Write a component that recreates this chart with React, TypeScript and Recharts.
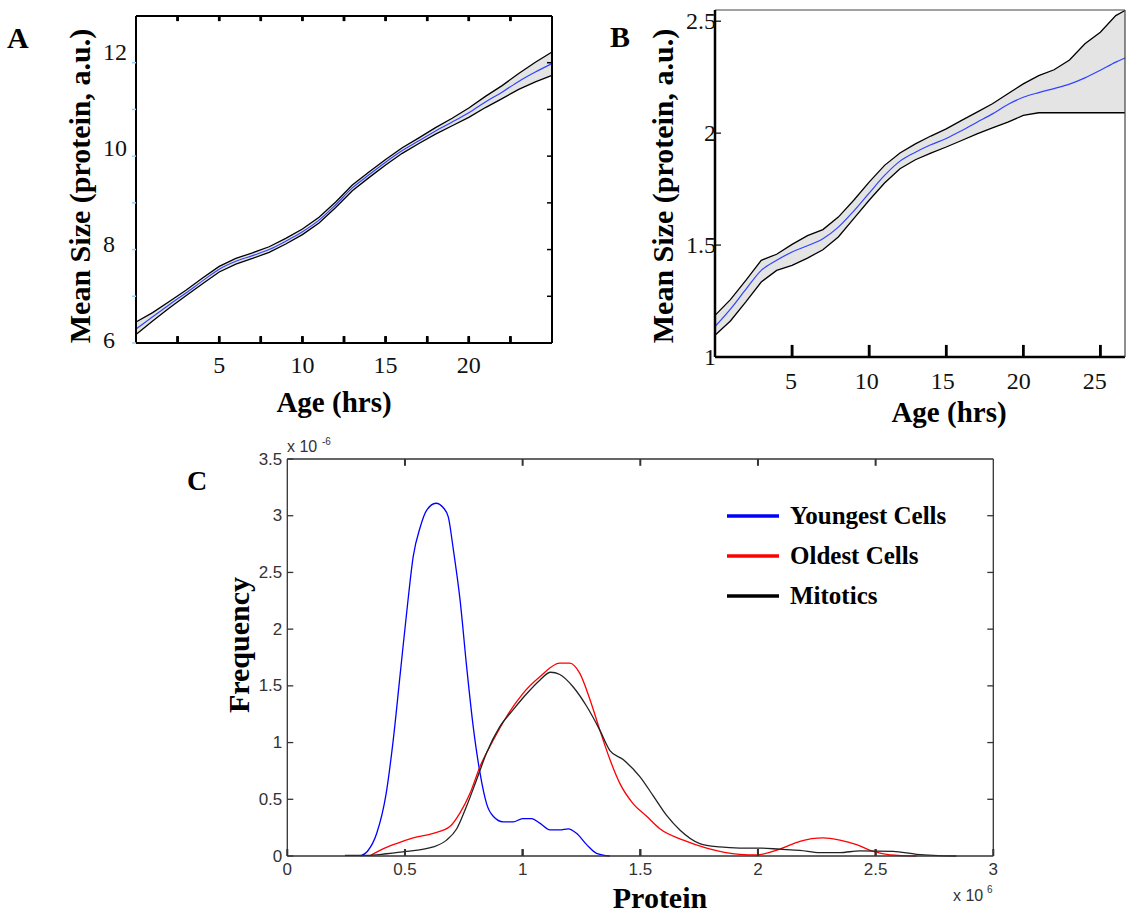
import React from "react";
import { ComposedChart, LineChart, Line, Area, XAxis, YAxis, Legend, ReferenceLine } from "recharts";

// Panel A: mean size vs age
const ageA = [0, 1, 2, 3, 4, 5, 6, 7, 8, 9, 10, 11, 12, 13, 14, 15, 16, 17, 18, 19, 20, 21, 22, 23, 24, 25];
const meanA = [6.30, 6.56, 6.82, 7.07, 7.33, 7.58, 7.75, 7.87, 8.00, 8.18, 8.38, 8.63, 8.96, 9.32, 9.60, 9.87, 10.12, 10.33, 10.54, 10.73, 10.93, 11.16, 11.37, 11.60, 11.80, 11.98];
const highA = [6.45, 6.65, 6.89, 7.13, 7.39, 7.64, 7.81, 7.93, 8.06, 8.24, 8.44, 8.69, 9.02, 9.38, 9.66, 9.93, 10.18, 10.39, 10.61, 10.81, 11.03, 11.28, 11.51, 11.77, 12.01, 12.23];
const lowA = [6.18, 6.47, 6.75, 7.01, 7.27, 7.52, 7.69, 7.81, 7.94, 8.12, 8.32, 8.57, 8.90, 9.26, 9.54, 9.81, 10.06, 10.27, 10.47, 10.65, 10.83, 11.04, 11.23, 11.43, 11.59, 11.73];

// Panel B
const ageB = [0, 1, 2, 3, 4, 5, 6, 7, 8, 9, 10, 11, 12, 13, 14, 15, 16, 17, 18, 19, 20, 21, 22, 23, 24, 25, 26, 26.6];
const meanB = [1.136, 1.214, 1.302, 1.387, 1.432, 1.469, 1.497, 1.528, 1.580, 1.652, 1.732, 1.811, 1.875, 1.915, 1.948, 1.976, 2.011, 2.049, 2.086, 2.128, 2.160, 2.181, 2.199, 2.219, 2.247, 2.281, 2.317, 2.336];
const highB = [1.186, 1.256, 1.342, 1.432, 1.459, 1.503, 1.542, 1.569, 1.625, 1.700, 1.781, 1.856, 1.911, 1.952, 1.987, 2.019, 2.057, 2.094, 2.131, 2.176, 2.220, 2.257, 2.283, 2.327, 2.399, 2.451, 2.525, 2.548];
const lowB = [1.097, 1.161, 1.246, 1.335, 1.387, 1.409, 1.442, 1.479, 1.536, 1.618, 1.700, 1.777, 1.841, 1.881, 1.911, 1.938, 1.967, 1.997, 2.023, 2.049, 2.079, 2.091, 2.091, 2.091, 2.091, 2.091, 2.091, 2.091];

// Panel C: protein distributions (x in 1e6, y in 1e-6)
const youngX = [0.31, 0.34, 0.38, 0.42, 0.45, 0.48, 0.51, 0.535, 0.565, 0.59, 0.632, 0.663, 0.684, 0.705, 0.734, 0.762, 0.79, 0.819, 0.847, 0.875, 0.918, 0.96, 1.0, 1.038, 1.073, 1.116, 1.158, 1.194, 1.229, 1.272, 1.314, 1.37];
const youngY = [0, 0.04, 0.2, 0.55, 1.02, 1.61, 2.2, 2.64, 2.9, 3.04, 3.11, 3.07, 2.99, 2.71, 2.26, 1.67, 1.14, 0.73, 0.46, 0.35, 0.30, 0.30, 0.33, 0.33, 0.29, 0.23, 0.23, 0.24, 0.20, 0.10, 0.024, 0];
const oldX = [0.35, 0.394, 0.464, 0.535, 0.62, 0.691, 0.734, 0.776, 0.819, 0.875, 0.932, 1.0, 1.073, 1.158, 1.2, 1.243, 1.286, 1.328, 1.371, 1.413, 1.47, 1.527, 1.583, 1.683, 1.782, 1.923, 1.994, 2.093, 2.178, 2.277, 2.348, 2.419, 2.49, 2.561, 2.674];
const oldY = [0, 0.05, 0.11, 0.16, 0.2, 0.26, 0.38, 0.55, 0.79, 1.02, 1.23, 1.43, 1.58, 1.70, 1.70, 1.61, 1.38, 1.11, 0.85, 0.64, 0.46, 0.35, 0.24, 0.14, 0.07, 0.015, 0.01, 0.06, 0.13, 0.16, 0.14, 0.10, 0.04, 0.01, 0];
const mitX = [0.245, 0.337, 0.422, 0.507, 0.62, 0.677, 0.72, 0.762, 0.804, 0.847, 0.903, 0.96, 1.017, 1.073, 1.119, 1.158, 1.215, 1.272, 1.328, 1.371, 1.427, 1.498, 1.555, 1.611, 1.668, 1.753, 1.838, 1.923, 2.008, 2.093, 2.178, 2.263, 2.348, 2.433, 2.575, 2.674, 2.843];
const mitY = [0.005, 0.005, 0.02, 0.04, 0.08, 0.14, 0.24, 0.44, 0.67, 0.91, 1.14, 1.29, 1.43, 1.55, 1.62, 1.60, 1.49, 1.32, 1.11, 0.93, 0.85, 0.70, 0.53, 0.36, 0.23, 0.11, 0.08, 0.07, 0.07, 0.06, 0.05, 0.03, 0.03, 0.045, 0.04, 0.015, 0];
const seriesNames = ["Youngest Cells", "Oldest Cells", "Mitotics"];

const ticksA = [2.5, 5, 7.5, 10, 12.5, 15, 17.5, 20, 22.5];
const labelsA = [5, 10, 15, 20];
const labelsAy = [6, 8, 10, 12];
const ticksB = [5, 10, 15, 20, 25];
const ticksBy = [1, 1.5, 2, 2.5];
const ticksCx = [0, 0.5, 1, 1.5, 2, 2.5, 3];
const innerCx = [0.5, 1, 1.5, 2, 2.5];
const ticksCy = [0, 0.5, 1, 1.5, 2, 2.5, 3, 3.5];

const serif = "'Liberation Serif', 'Times New Roman', serif";
const sans = "'Liberation Sans', Arial, sans-serif";

const bandRows = (age: number[], mean: number[], low: number[], high: number[]) =>
  age.map((t, i) => ({ t, mean: mean[i], low: low[i], high: high[i], band: [low[i], high[i]] }));
const pts = (xs: number[], ys: number[]) => xs.map((x, i) => ({ x, y: ys[i] }));

const rowsA = bandRows(ageA, meanA, lowA, highA);
const rowsB = bandRows(ageB, meanB, lowB, highB);
const youngData = pts(youngX, youngY);
const oldData = pts(oldX, oldY);
const mitData = pts(mitX, mitY);

const tickText = (anchor: string, font: string, size: number, fill: string) => (p: any) => (
  <text x={p.x} y={p.y} textAnchor={anchor} dominantBaseline="central" fontFamily={font} fontSize={size} fill={fill}>
    {p.payload.value}
  </text>
);

// inward tick mark on a frame side (+ optional label)
type LabelOpt = { anchor: string; font: string; size: number; fill: string; dx: number; dy: number };
const markTick = (side: string, len: number, stroke: string, sw: number, label?: LabelOpt) => (p: any) => {
  const { x, y } = p;
  let x2 = x, y2 = y;
  if (side === "bottom") y2 = y - len;
  if (side === "top") y2 = y + len;
  if (side === "left") x2 = x + len;
  if (side === "right") x2 = x - len;
  return (
    <g>
      {len !== 0 && <line x1={x} y1={y} x2={x2} y2={y2} stroke={stroke} strokeWidth={sw} />}
      {label && (
        <text x={x + label.dx} y={y + label.dy} textAnchor={label.anchor} dominantBaseline="central"
          fontFamily={label.font} fontSize={label.size} fill={label.fill}>
          {p.payload.value}
        </text>
      )}
    </g>
  );
};

// short vertical tick marks along the x frames
const xTickMarks = (vals: number[], y0: number, y1: number, stroke: string, sw: number, tag: string) =>
  vals.map((v) => (
    <ReferenceLine key={`${tag}${v}`} xAxisId="x" yAxisId="y" segment={[{ x: v, y: y0 }, { x: v, y: y1 }]}
      stroke={stroke} strokeWidth={sw} ifOverflow="visible" />
  ));

const renderLegend = (props: any) => {
  const items = [...(props.payload || [])].sort(
    (a: any, b: any) => seriesNames.indexOf(a.value) - seriesNames.indexOf(b.value)
  );
  return (
    <div>
      {items.map((e: any) => (
        <div key={e.value} style={{ display: "flex", alignItems: "center", height: 40 }}>
          <svg width={52} height={6}>
            <line x1={0} y1={3} x2={52} y2={3} stroke={e.color === "#222" ? "#000" : e.color} strokeWidth={3.5} />
          </svg>
          <span style={{ marginLeft: 11, fontFamily: serif, fontWeight: "bold", fontSize: 25, color: "#000", whiteSpace: "nowrap" }}>
            {e.value}
          </span>
        </div>
      ))}
    </div>
  );
};

const cLabel = { font: sans, size: 17, fill: "#333" };

export default function App() {
  return (
    <div style={{ position: "absolute", left: 0, top: 0, width: 1133, height: 916, background: "#fff" }}>
      <div style={{ position: "absolute", left: 0, top: 0 }}>
        <ComposedChart width={600} height={440} data={rowsA} margin={{ top: 15, right: 47, left: 103, bottom: 36 }}>
          <XAxis xAxisId="x" dataKey="t" type="number" domain={[0, 25]} ticks={ticksA} height={1} interval={0}
            tickLine={false} tickSize={0} tickMargin={0} stroke="#000" strokeWidth={2} tick={markTick("bottom", 7, "#000", 2.5)} />
          <XAxis xAxisId="xl" type="number" domain={[0.8, 23.6]} ticks={labelsA} allowDataOverflow height={60} interval={0}
            axisLine={false} tickLine={false} tickSize={0} tickMargin={21} tick={tickText("middle", serif, 24, "#111")} />
          <XAxis xAxisId="xt" orientation="top" type="number" domain={[0, 25]} ticks={ticksA} height={1} interval={0}
            tickLine={false} tickSize={0} tickMargin={0} stroke="#000" strokeWidth={2} tick={markTick("top", 5, "#000", 2.5)} />
          <YAxis yAxisId="y" type="number" domain={[6, 13]} ticks={[6, 7, 8, 9, 10, 11, 12]} width={1} interval={0}
            tickLine={false} tickSize={0} tickMargin={0} stroke="#000" strokeWidth={2} tick={markTick("left", -4, "#8fd0ff", 1.5)} />
          <YAxis yAxisId="yl" type="number" domain={[5.94, 12.75]} ticks={labelsAy} allowDataOverflow width={32} interval={0}
            axisLine={false} tickLine={false} tickSize={0} tickMargin={32} tick={tickText("start", serif, 24, "#111")} />
          <YAxis yAxisId="yr" orientation="right" type="number" domain={[6, 13]} ticks={[7, 8, 9, 10, 11, 12]} allowDataOverflow width={1} interval={0}
            tickLine={false} tickSize={0} tickMargin={0} stroke="#000" strokeWidth={2} tick={markTick("right", 5, "#000", 1.5)} />
          {xTickMarks(ticksA, 6, 6.14, "#000", 2.5, "ab")}
          {xTickMarks(ticksA, 12.89, 13, "#000", 2.5, "at")}
          <Area xAxisId="x" yAxisId="y" dataKey="band" type="linear" fill="#e4e4e4" fillOpacity={1} stroke="none" isAnimationActive={false} />
          <Line xAxisId="x" yAxisId="y" dataKey="low" type="linear" stroke="#000" strokeWidth={1.3} dot={false} isAnimationActive={false} />
          <Line xAxisId="x" yAxisId="y" dataKey="high" type="linear" stroke="#000" strokeWidth={1.3} dot={false} isAnimationActive={false} />
          <Line xAxisId="x" yAxisId="y" dataKey="mean" type="monotone" stroke="#2f44ff" strokeWidth={1.2} dot={false} isAnimationActive={false} />
        </ComposedChart>
      </div>

      <div style={{ position: "absolute", left: 600, top: 0 }}>
        <ComposedChart width={533} height={440} data={rowsB} margin={{ top: 9, right: 7, left: 114, bottom: 32 }}>
          <XAxis xAxisId="x" dataKey="t" type="number" domain={[0, 26.6]} ticks={ticksB} height={1} interval={0}
            tickLine={false} tickSize={0} tickMargin={0} stroke="#000" strokeWidth={2.5} tick={markTick("bottom", 12, "#000", 2.5)} />
          <XAxis xAxisId="xl" type="number" domain={[-0.54, 25.57]} ticks={ticksB} allowDataOverflow height={50} interval={0}
            axisLine={false} tickLine={false} tickSize={0} tickMargin={23} tick={tickText("middle", serif, 24, "#111")} />
          <XAxis xAxisId="xt" orientation="top" type="number" domain={[0, 26.6]} ticks={ticksB} allowDataOverflow height={1}
            tick={false} tickLine={false} stroke="#444" strokeWidth={1.2} />
          <YAxis yAxisId="y" type="number" domain={[1, 2.55]} ticks={ticksBy} width={1} interval={0}
            tickLine={false} tickSize={0} tickMargin={0} stroke="#000" strokeWidth={2.5}
            tick={markTick("left", 6, "#000", 1.2, { anchor: "end", font: serif, size: 24, fill: "#111", dx: 1, dy: 0 })} />
          <YAxis yAxisId="yr" orientation="right" type="number" domain={[1, 2.55]} ticks={ticksBy} allowDataOverflow width={1}
            tick={false} tickLine={false} stroke="#444" strokeWidth={1.2} />
          {xTickMarks(ticksB, 1, 1.054, "#000", 2.5, "bb")}
          <Area xAxisId="x" yAxisId="y" dataKey="band" type="linear" fill="#e4e4e4" fillOpacity={1} stroke="none" isAnimationActive={false} />
          <Line xAxisId="x" yAxisId="y" dataKey="low" type="linear" stroke="#000" strokeWidth={1.3} dot={false} isAnimationActive={false} />
          <Line xAxisId="x" yAxisId="y" dataKey="high" type="linear" stroke="#000" strokeWidth={1.3} dot={false} isAnimationActive={false} />
          <Line xAxisId="x" yAxisId="y" dataKey="mean" type="monotone" stroke="#2f44ff" strokeWidth={1.2} dot={false} isAnimationActive={false} />
        </ComposedChart>
      </div>

      <div style={{ position: "absolute", left: 150, top: 430 }}>
        <LineChart width={900} height={486} margin={{ top: 28, right: 55.7, left: 77.3, bottom: 30 }}>
          <XAxis xAxisId="x" dataKey="x" type="number" domain={[0, 3]} ticks={ticksCx} height={30} interval={0}
            tickLine={false} tickSize={0} tickMargin={0} stroke="#333" strokeWidth={1.3}
            tick={markTick("bottom", 7, "#333", 2, { ...cLabel, anchor: "middle", dx: 0, dy: 13 })} />
          <XAxis xAxisId="xt" orientation="top" type="number" domain={[0, 3]} ticks={innerCx} height={1} interval={0}
            tickLine={false} tickSize={0} tickMargin={0} stroke="#333" strokeWidth={1.3} tick={markTick("top", 7, "#333", 2)} />
          <YAxis yAxisId="y" type="number" domain={[0, 3.5]} ticks={ticksCy} width={60} interval={0}
            tickLine={false} tickSize={0} tickMargin={0} stroke="#333" strokeWidth={1.3}
            tick={markTick("left", 6, "#333", 1.3, { ...cLabel, anchor: "end", dx: -5, dy: 0 })} />
          <YAxis yAxisId="yr" orientation="right" type="number" domain={[0, 3.5]} ticks={[0.5, 1, 1.5, 2, 2.5, 3]} allowDataOverflow width={1} interval={0}
            tickLine={false} tickSize={0} tickMargin={0} stroke="#333" strokeWidth={1.3} tick={markTick("right", 6, "#333", 1.3)} />
          {xTickMarks(innerCx, 0, 0.06, "#333", 2, "cb")}
          {xTickMarks(innerCx, 3.44, 3.5, "#333", 2, "ct")}
          <Legend layout="vertical" align="center" verticalAlign="middle" content={renderLegend}
            wrapperStyle={{ left: 577, top: 66, width: 320, height: "auto" }} />
          <Line xAxisId="x" yAxisId="y" data={youngData} dataKey="y" name={seriesNames[0]} type="monotone" stroke="#0000ff" strokeWidth={1.3} dot={false} isAnimationActive={false} />
          <Line xAxisId="x" yAxisId="y" data={oldData} dataKey="y" name={seriesNames[1]} type="monotone" stroke="#ff0000" strokeWidth={1.3} dot={false} isAnimationActive={false} />
          <Line xAxisId="x" yAxisId="y" data={mitData} dataKey="y" name={seriesNames[2]} type="monotone" stroke="#222" strokeWidth={1.3} dot={false} isAnimationActive={false} />
        </LineChart>
      </div>

      <svg width={1133} height={916} style={{ position: "absolute", left: 0, top: 0, pointerEvents: "none" }}>
        <g fontFamily={serif} fontWeight="bold" fill="#000">
          <text x={7} y={48} fontSize={30}>A</text>
          <text x={610} y={47} fontSize={30}>B</text>
          <text x={187} y={490} fontSize={28}>C</text>
          <text x={90} y={186} fontSize={30} textAnchor="middle" transform="rotate(-90 90 186)">Mean Size (protein, a.u.)</text>
          <text x={673} y={186} fontSize={30} textAnchor="middle" transform="rotate(-90 673 186)">Mean Size (protein, a.u.)</text>
          <text x={334} y={412} fontSize={29} textAnchor="middle">Age (hrs)</text>
          <text x={949} y={422} fontSize={29} textAnchor="middle">Age (hrs)</text>
          <text x={249} y={645} fontSize={30} textAnchor="middle" transform="rotate(-90 249 645)">Frequency</text>
          <text x={660} y={908} fontSize={30} textAnchor="middle">Protein</text>
        </g>
        <g fontFamily={sans} fill="#333">
          <text x={287} y={452} fontSize={16}>x 10</text>
          <text x={322} y={445} fontSize={10}>-6</text>
          <text x={953} y={901} fontSize={16}>x 10</text>
          <text x={987} y={893} fontSize={10}>6</text>
        </g>
      </svg>
    </div>
  );
}
